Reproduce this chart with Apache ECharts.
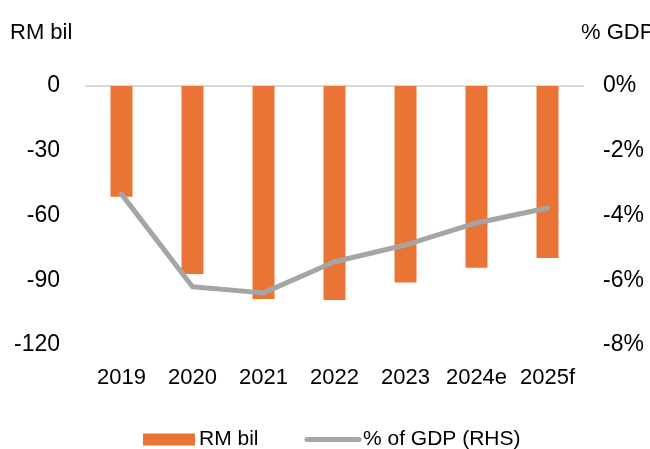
<!DOCTYPE html>
<html><head><meta charset="utf-8">
<script src="https://cdn.jsdelivr.net/npm/echarts@6/dist/echarts.min.js"></script>
<style>html,body{margin:0;padding:0;background:#fff}#c{width:650px;height:449px}</style>
</head><body><div id="c"></div>
<script>
const categories = ['2019','2020','2021','2022','2023','2024e','2025f'];
const rmBil = [-51.3, -87.1, -98.7, -99.2, -91.1, -84.2, -79.7];
const pctGdp = [-3.34, -6.2, -6.39, -5.43, -4.91, -4.23, -3.77];
const leftTicks = [0, -30, -60, -90, -120];
const rightTicks = [0, -2, -4, -6, -8];

const FONT = '"Liberation Sans", Arial, sans-serif';
const chart = echarts.init(document.getElementById('c'));
chart.setOption({
  animation: false,
  textStyle: { fontFamily: FONT, color: '#000' },
  grid: { left: 86, right: 67, top: 86, bottom: 104, outerBoundsMode: 'none', containLabel: false },
  legend: {
    top: 429, left: 143, itemGap: 46, padding: 0,
    itemWidth: 52, itemHeight: 12,
    textStyle: { fontFamily: FONT, fontSize: 21, color: '#000', padding: [0, 0, 0, -1] },
    data: [
      { name: 'RM bil', icon: 'rect' },
      { name: '% of GDP (RHS)', itemStyle: { opacity: 0 }, lineStyle: { width: 5, cap: 'round', color: '#A5A5A5' } }
    ]
  },
  xAxis: {
    type: 'category', data: categories, position: 'top',
    axisLine: { show: true, lineStyle: { color: '#D9D9D9', width: 2 } },
    axisTick: { show: false },
    axisLabel: { show: false }
  },
  yAxis: [
    {
      type: 'value', min: -120, max: 0, interval: 30,
      name: 'RM bil', nameLocation: 'end', nameGap: 42,
      nameTextStyle: { fontFamily: FONT, fontSize: 22, color: '#000', align: 'left', padding: [0, 0, 0, -76] },
      axisLine: { show: false }, axisTick: { show: false }, splitLine: { show: false },
      axisLabel: { fontFamily: FONT, fontSize: 23, color: '#000', margin: 26,
        formatter: v => leftTicks.includes(v) ? String(v) : '' }
    },
    {
      type: 'value', min: -8, max: 0, interval: 2, position: 'right',
      name: '% GDP', nameLocation: 'end', nameGap: 42,
      nameTextStyle: { fontFamily: FONT, fontSize: 22, color: '#000', align: 'left', padding: [0, 0, 0, -2] },
      axisLine: { show: false }, axisTick: { show: false }, splitLine: { show: false },
      axisLabel: { fontFamily: FONT, fontSize: 23, color: '#000', margin: 20,
        formatter: v => rightTicks.includes(v) ? v + '%' : '' }
    }
  ],
  series: [
    {
      name: 'RM bil', type: 'bar', data: rmBil, yAxisIndex: 0,
      barWidth: 22, itemStyle: { color: '#EA7435' }
    },
    {
      name: '% of GDP (RHS)', type: 'line', data: pctGdp, yAxisIndex: 1,
      symbol: 'none', lineStyle: { color: '#A5A5A5', width: 5, cap: 'round', join: 'round' }, itemStyle: { color: '#A5A5A5' }
    }
  ]
});
const labelY = 378;
chart.setOption({
  graphic: categories.map((c) => {
    const x = chart.convertToPixel({ xAxisIndex: 0 }, c);
    return { type: 'text', x: x, y: labelY, silent: true,
      style: { text: c, font: '22px ' + FONT, fill: '#000', align: 'center', verticalAlign: 'middle' } };
  })
});
</script></body></html>
